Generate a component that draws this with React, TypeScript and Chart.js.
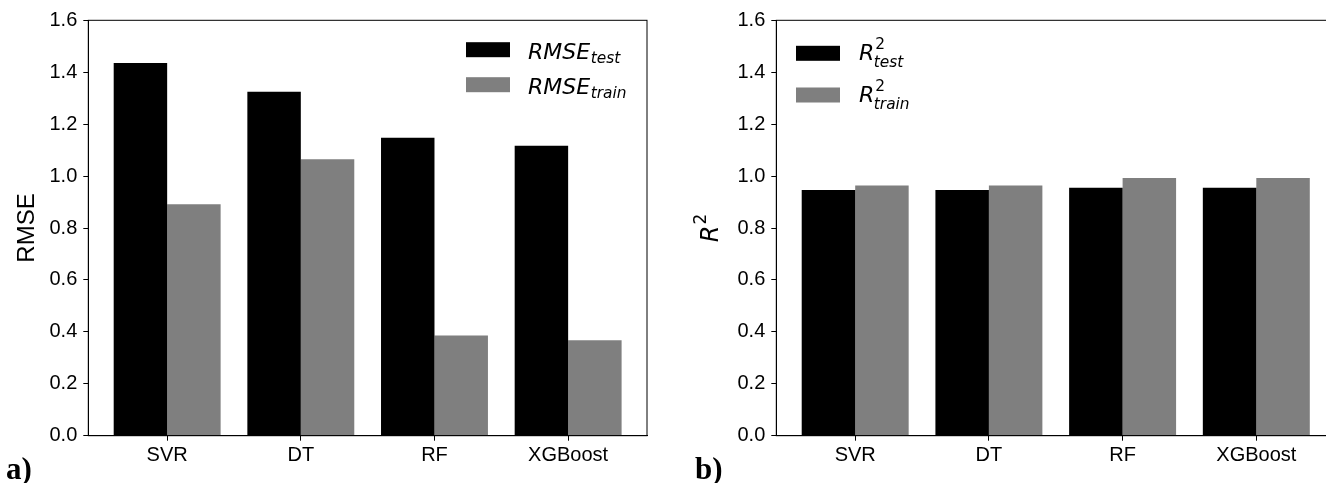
import React, { useEffect, useRef } from "react";
import { Chart, registerables } from "chart.js";

Chart.register(...registerables);

// ---- data ----
const categories = ["SVR", "DT", "RF", "XGBoost"];
const rmseTest = [1.436, 1.325, 1.148, 1.117];
const rmseTrain = [0.891, 1.065, 0.386, 0.368];
const r2Test = [0.946, 0.946, 0.955, 0.955];
const r2Train = [0.964, 0.964, 0.993, 0.993];
const yTickValues = [0, 0.2, 0.4, 0.6, 0.8, 1.0, 1.2, 1.4, 1.6];
const rmseLegend = ["RMSE_test", "RMSE_train"];
const r2Legend = ["R^2_test", "R^2_train"];
const panelLabels = ["a)", "b)"];
const yTitles = ["RMSE", "R^2"];

const BLACK = "#000000";
const GRAY = "#7f7f7f";

function parseLabel(s: string) {
  const m = s.match(/^([^_^]+)(?:\^([^_]+))?(?:_(.+))?$/);
  return { base: m ? m[1] : s, sup: (m && m[2]) || "", sub: (m && m[3]) || "" };
}

function drawMath(ctx: CanvasRenderingContext2D, x: number, y: number, label: string, size: number, supRaise: number, subDrop: number) {
  const { base, sup, sub } = parseLabel(label);
  ctx.font = `italic ${size}px "DejaVu Sans"`;
  ctx.fillText(base, x, y);
  const w = ctx.measureText(base).width;
  const small = size * 0.7;
  if (sup) {
    ctx.font = `${small}px "DejaVu Sans"`;
    ctx.fillText(sup, x + w + 1, y - supRaise);
  }
  if (sub) {
    ctx.font = `italic ${small}px "DejaVu Sans"`;
    ctx.fillText(sub, x + w + (sup ? -0.5 : 0.5), y + subDrop);
  }
}

type PanelParams = {
  test: number[];
  train: number[];
  legend: string[];
  yWidth: number;
  padRight: number;
  patchX: number;
  rowCenters: number[];
  textX: number;
  baseOff: number;
  supRaise: number;
  subDrop: number;
  panelLabel: string;
  panelX: number;
  yTitle: string;
  yTitleX: number;
};

function decorPlugin(p: PanelParams) {
  return {
    id: "decor",
    afterDraw(chart: any) {
      const ctx: CanvasRenderingContext2D = chart.ctx;
      const a = chart.chartArea;
      ctx.save();
      // frame (all four spines)
      ctx.strokeStyle = "#000";
      ctx.lineWidth = 1;
      ctx.strokeRect(a.left, a.top, a.right - a.left, a.bottom - a.top);

      // legend
      chart.data.datasets.forEach((ds: any, i: number) => {
        const cy = p.rowCenters[i];
        ctx.fillStyle = ds.backgroundColor;
        ctx.fillRect(p.patchX, cy - 7.5, 44, 15);
        ctx.fillStyle = "#000";
        ctx.textAlign = "left";
        ctx.textBaseline = "alphabetic";
        drawMath(ctx, p.textX, cy + p.baseOff, ds.label, 22, p.supRaise, p.subDrop);
      });

      // panel label
      ctx.fillStyle = "#000";
      ctx.font = `bold 31px "Liberation Serif"`;
      ctx.textAlign = "left";
      ctx.textBaseline = "alphabetic";
      ctx.fillText(p.panelLabel, p.panelX, 479);

      // y title
      const cy = (a.top + a.bottom) / 2;
      ctx.save();
      ctx.translate(p.yTitleX, cy);
      ctx.rotate(-Math.PI / 2);
      const { base, sup } = parseLabel(p.yTitle);
      if (sup) {
        ctx.font = `italic 24px "DejaVu Sans"`;
        const wR = ctx.measureText(base).width;
        ctx.font = `17px "DejaVu Sans"`;
        const w2 = ctx.measureText(sup).width;
        const total = wR + w2 + 1;
        ctx.textAlign = "left";
        ctx.textBaseline = "alphabetic";
        ctx.font = `italic 24px "DejaVu Sans"`;
        ctx.fillText(base, -total / 2, 8);
        ctx.font = `17px "DejaVu Sans"`;
        ctx.fillText(sup, -total / 2 + wR + 1, -4);
      } else {
        ctx.font = `24px "Liberation Sans"`;
        ctx.textAlign = "center";
        ctx.textBaseline = "middle";
        ctx.fillText(base, 0, 0);
      }
      ctx.restore();
      ctx.restore();
    },
  };
}

function buildConfig(p: PanelParams): any {
  const gridOpts = {
    display: true,
    drawOnChartArea: false,
    drawTicks: true,
    tickLength: 5,
    color: "#000",
    lineWidth: 1,
    offset: false,
  };
  const border = { display: true, color: "#000", width: 1 };
  return {
    type: "bar",
    data: {
      datasets: [
        {
          label: p.legend[0],
          data: categories.map((_, i) => ({ x: i, y: p.test[i] })),
          backgroundColor: BLACK,
          categoryPercentage: 0.8,
          barPercentage: 1,
          borderWidth: 0,
        },
        {
          label: p.legend[1],
          data: categories.map((_, i) => ({ x: i, y: p.train[i] })),
          backgroundColor: GRAY,
          categoryPercentage: 0.8,
          barPercentage: 1,
          borderWidth: 0,
        },
      ],
    },
    options: {
      animation: false,
      responsive: false,
      maintainAspectRatio: false,
      layout: { padding: { left: 0, top: 20.3, right: p.padRight, bottom: 0 } },
      plugins: { legend: { display: false }, tooltip: { enabled: false }, title: { display: false } },
      scales: {
        x: {
          type: "linear",
          min: -0.59,
          max: 3.59,
          offset: false,
          afterBuildTicks: (s: any) => {
            s.ticks = categories.map((_, i) => ({ value: i }));
          },
          afterFit: (s: any) => {
            s.height = 47.3;
          },
          ticks: {
            callback: (v: any) => categories[Math.round(Number(v))] ?? "",
            color: "#000",
            font: { family: "Liberation Sans", size: 20 },
            padding: 3,
            autoSkip: false,
            maxRotation: 0,
            minRotation: 0,
            includeBounds: false,
          },
          grid: gridOpts,
          border,
        },
        y: {
          type: "linear",
          min: 0,
          max: 1.6,
          afterBuildTicks: (s: any) => {
            s.ticks = yTickValues.map((v) => ({ value: v }));
          },
          afterFit: (s: any) => {
            s.width = p.yWidth;
          },
          ticks: {
            callback: (v: any) => Number(v).toFixed(1),
            color: "#000",
            font: { family: "Liberation Sans", size: 20 },
            padding: 6,
          },
          grid: gridOpts,
          border,
        },
      },
    },
    plugins: [decorPlugin(p)],
  };
}

function Panel({ left, width, params }: { left: number; width: number; params: PanelParams }) {
  const ref = useRef<HTMLCanvasElement | null>(null);
  useEffect(() => {
    if (!ref.current) return;
    const chart = new Chart(ref.current, buildConfig(params));
    return () => chart.destroy();
  }, []);
  return (
    <canvas
      ref={ref}
      width={width}
      height={483}
      style={{ position: "absolute", left, top: 0, width, height: 483 }}
    />
  );
}

const panelA: PanelParams = {
  test: rmseTest,
  train: rmseTrain,
  legend: rmseLegend,
  yWidth: 88.3,
  padRight: 16,
  patchX: 466,
  rowCenters: [49.7, 84.7],
  textX: 528,
  baseOff: 9.6,
  supRaise: 0,
  subDrop: 3.5,
  panelLabel: panelLabels[0],
  panelX: 6,
  yTitle: yTitles[0],
  yTitleX: 27,
};

const panelB: PanelParams = {
  test: r2Test,
  train: r2Train,
  legend: r2Legend,
  yWidth: 113.3,
  padRight: 700 - (1335.2 - 663),
  patchX: 133,
  rowCenters: [53.3, 95],
  textX: 196,
  baseOff: 7,
  supRaise: 11,
  subDrop: 6.5,
  panelLabel: panelLabels[1],
  panelX: 32,
  yTitle: yTitles[1],
  yTitleX: 47,
};

export default function App() {
  return (
    <div
      style={{
        position: "fixed",
        left: 0,
        top: 0,
        width: 1326,
        height: 483,
        overflow: "hidden",
        background: "#ffffff",
      }}
    >
      <Panel left={0} width={663} params={panelA} />
      <Panel left={663} width={700} params={panelB} />
    </div>
  );
}
